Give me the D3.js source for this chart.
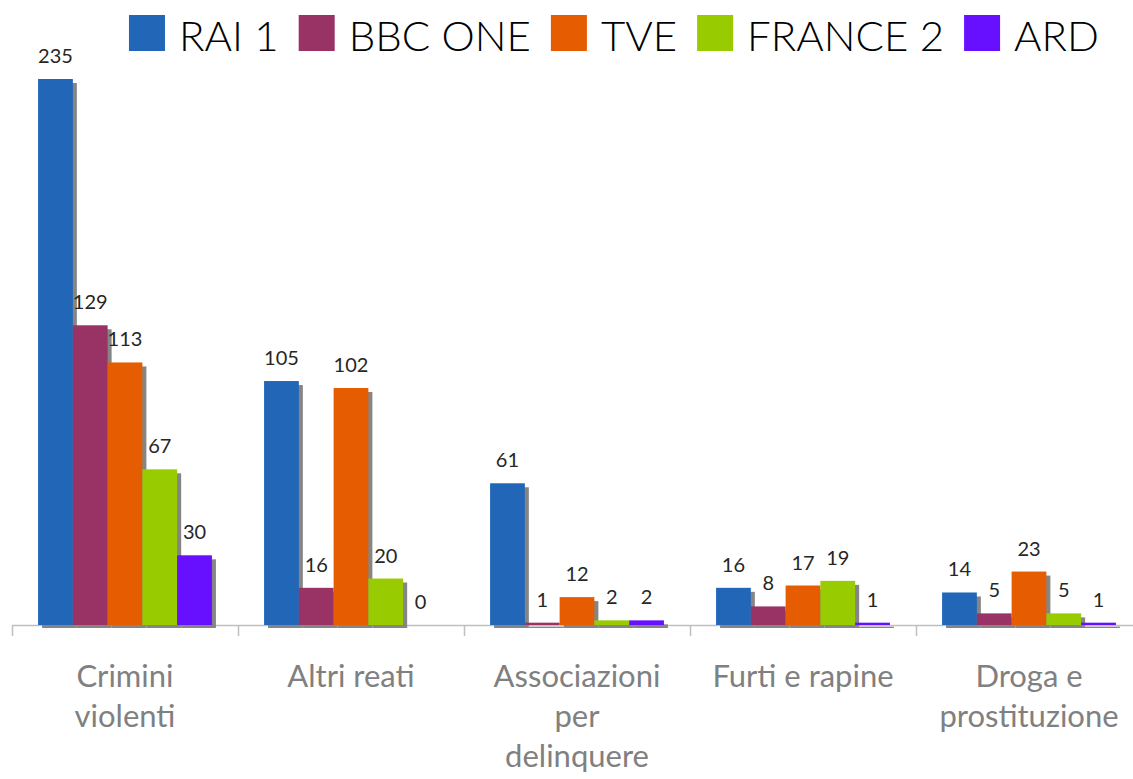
<!DOCTYPE html>
<html>
<head>
<meta charset="utf-8">
<script src="https://cdn.jsdelivr.net/npm/d3@7"></script>
<style>
  body { margin: 0; background: #fff; }
  svg { display: block; font-family: "Lato", "DejaVu Sans", sans-serif; }
</style>
</head>
<body>
<div id="chart"></div>
<script>
// data
const categories = ["Crimini violenti", "Altri reati", "Associazioni per delinquere", "Furti e rapine", "Droga e prostituzione"];
const seriesNames = ["RAI 1", "BBC ONE", "TVE", "FRANCE 2", "ARD"];
const rai1 = [235, 105, 61, 16, 14];
const bbcOne = [129, 16, 1, 8, 5];
const tve = [113, 102, 12, 17, 23];
const france2 = [67, 20, 2, 19, 5];
const ard = [30, 0, 2, 1, 1];
const colors = ["#2266b8", "#993366", "#e65c00", "#99cc00", "#6610ff"];

const allSeries = [rai1, bbcOne, tve, france2, ard];

const width = 1133, height = 779;
const margin = { top: 79, left: 12, bottom: 154 };
const baseY = height - margin.bottom; // 625

const svg = d3.select("#chart")
  .append("svg")
  .attr("width", width)
  .attr("height", height);

// scales
const x0 = d3.scaleBand()
  .domain(categories)
  .range([margin.left, margin.left + 226 * categories.length])
  .padding(0);

const x1 = d3.scaleBand()
  .domain(seriesNames)
  .range([0, x0.bandwidth()])
  .paddingInner(0)
  .paddingOuter(0.75);

const y = d3.scaleLinear()
  .domain([0, 235])
  .range([baseY, margin.top]);

// x axis line + ticks at category boundaries
const axis = svg.append("g").attr("class", "x-axis");
axis.append("line")
  .attr("x1", x0.range()[0]).attr("x2", x0.range()[1])
  .attr("y1", baseY + 0.5).attr("y2", baseY + 0.5)
  .attr("stroke", "#bfbfbf").attr("stroke-width", 1.5);
axis.selectAll("line.tick")
  .data(categories)
  .enter()
  .append("line")
  .attr("class", "tick")
  .attr("x1", d => x0(d) + 0.5).attr("x2", d => x0(d) + 0.5)
  .attr("y1", baseY).attr("y2", baseY + 11)
  .attr("stroke", "#bfbfbf").attr("stroke-width", 1.5);

// flatten for drawing
const rows = [];
categories.forEach((c, i) => {
  seriesNames.forEach((s, j) => {
    rows.push({ cat: c, series: s, value: allSeries[j][i], color: colors[j] });
  });
});

// shadows
svg.append("g")
  .selectAll("rect")
  .data(rows)
  .enter()
  .append("rect")
  .attr("x", d => x0(d.cat) + x1(d.series) + 4)
  .attr("y", d => y(d.value) + 4)
  .attr("width", x1.bandwidth())
  .attr("height", d => baseY - y(d.value) - 1)
  .attr("fill", "#858585");

// bars
svg.append("g")
  .selectAll("rect")
  .data(rows)
  .enter()
  .append("rect")
  .attr("x", d => x0(d.cat) + x1(d.series))
  .attr("y", d => y(d.value))
  .attr("width", x1.bandwidth())
  .attr("height", d => baseY - y(d.value))
  .attr("fill", d => d.color);

// value labels
svg.append("g")
  .selectAll("text")
  .data(rows)
  .enter()
  .append("text")
  .attr("x", d => x0(d.cat) + x1(d.series) + x1.bandwidth() / 2)
  .attr("y", d => y(d.value) - 16)
  .attr("text-anchor", "middle")
  .style("font-size", "20px")
  .attr("fill", "#262626")
  .text(d => d.value);

// category labels, wrapped
const catLabels = svg.append("g");
categories.forEach(c => {
  const cx = x0(c) + x0.bandwidth() / 2;
  const t = catLabels.append("text")
    .attr("x", cx)
    .attr("y", 687)
    .attr("text-anchor", "middle")
    .style("font-size", "31px")
    .attr("fill", "#808080");
  const words = c.split(" ");
  let line = [];
  let tspan = t.append("tspan").attr("x", cx).attr("dy", 0);
  words.forEach(w => {
    line.push(w);
    tspan.text(line.join(" "));
    if (tspan.node().getComputedTextLength() > 185 && line.length > 1) {
      line.pop();
      tspan.text(line.join(" "));
      line = [w];
      tspan = t.append("tspan")
        .attr("x", cx)
        .attr("dy", 40)
        .text(w);
    }
  });
});

// legend
const legend = svg.append("g");
let lx = 0;
seriesNames.forEach((s, j) => {
  const item = legend.append("g").attr("transform", `translate(${lx},0)`);
  item.append("rect")
    .attr("x", 0).attr("y", 15)
    .attr("width", 36).attr("height", 36)
    .attr("fill", colors[j]);
  const txt = item.append("text")
    .attr("x", 50).attr("y", 51)
    .style("font-size", "42px")
    .style("font-weight", 300)
    .attr("fill", "#000")
    .text(s);
  lx += 50 + txt.node().getComputedTextLength() + 20;
});
const legendW = lx - 20;
legend.attr("transform", `translate(${614 - legendW / 2},0)`);
</script>
</body>
</html>
